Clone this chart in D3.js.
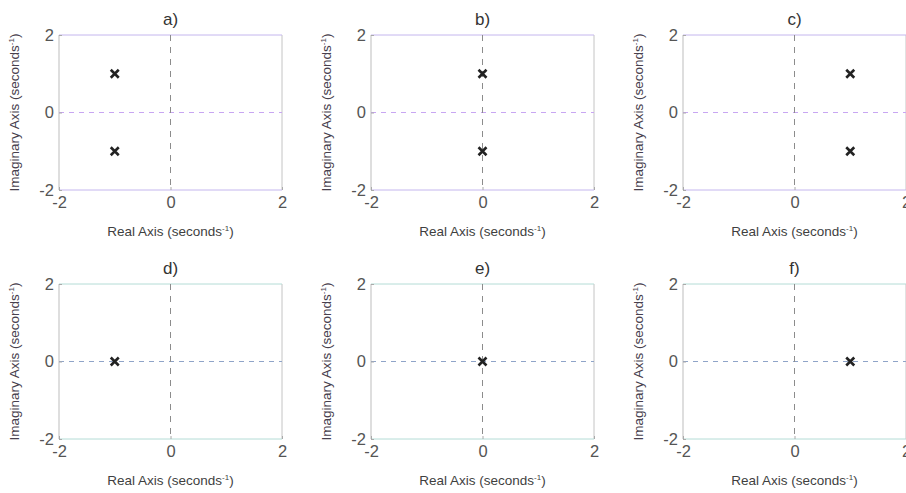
<!DOCTYPE html>
<html>
<head>
<meta charset="utf-8">
<script src="https://cdn.jsdelivr.net/npm/d3@7"></script>
<style>
  body { margin: 0; background: #fff; }
  svg { display: block; font-family: 'Liberation Sans', Arial, sans-serif; }
</style>
</head>
<body>
<div id="chart"></div>
<script>
  // panel titles and pole locations (real / imaginary parts)
  const panelTitles = ['a)', 'b)', 'c)', 'd)', 'e)', 'f)']
  const poleRe = [[-1, -1], [0, 0], [1, 1], [-1], [0], [1]]
  const poleIm = [[1, -1], [1, -1], [1, -1], [0], [0], [0]]
  const tickValues = [-2, 0, 2]
  const axisDomain = [-2, 2]

  const W = 906, H = 493
  const boxW = 223, boxH = 155
  const colLeft = [59, 371, 683]
  const rowTop = [35, 284]
  // faint scan tints of the top row / bottom row
  const edgeColor = ['#c4b6ee', '#b4dcd6']
  const zeroColor = ['#c8a6f2', '#8fa4c8']

  const svg = d3.select('#chart').append('svg')
    .attr('width', W).attr('height', H)

  panelTitles.forEach(function(title, i) {
    const row = Math.floor(i / 3), col = i % 3
    const g = svg.append('g')
      .attr('transform', `translate(${colLeft[col]}, ${rowTop[row]})`)

    const x = d3.scaleLinear().domain(axisDomain).range([0, boxW])
    const y = d3.scaleLinear().domain(axisDomain).range([boxH, 0])

    // box: grey sides, tinted top and bottom
    g.append('line').attr('x1', 0).attr('x2', 0).attr('y1', 0).attr('y2', boxH)
      .attr('stroke', '#bdbdbd')
    g.append('line').attr('x1', boxW).attr('x2', boxW).attr('y1', 0).attr('y2', boxH)
      .attr('stroke', '#c4c4c4')
    g.append('line').attr('x1', 0).attr('x2', boxW).attr('y1', 0).attr('y2', 0)
      .attr('stroke', edgeColor[row])
    g.append('line').attr('x1', 0).attr('x2', boxW).attr('y1', boxH).attr('y2', boxH)
      .attr('stroke', edgeColor[row])

    // zero lines
    g.append('line')
      .attr('x1', 0).attr('x2', boxW).attr('y1', y(0)).attr('y2', y(0))
      .attr('stroke', zeroColor[row]).attr('stroke-dasharray', '5,5')
    g.append('line')
      .attr('x1', x(0)).attr('x2', x(0)).attr('y1', 0).attr('y2', boxH)
      .attr('stroke', '#8c8c8c').attr('stroke-dasharray', '6,6')

    // axes with small inward ticks
    const ax = g.append('g').attr('transform', `translate(0, ${boxH})`)
      .call(d3.axisBottom(x).tickValues(tickValues).tickFormat(d => String(d))
        .tickSizeInner(-3).tickSizeOuter(0).tickPadding(5))
    const ay = g.append('g')
      .call(d3.axisLeft(y).tickValues(tickValues).tickFormat(d => String(d))
        .tickSizeInner(-3).tickSizeOuter(0).tickPadding(5))
    ;[ax, ay].forEach(function(a) {
      a.select('.domain').remove()
      a.selectAll('.tick line').attr('stroke', '#aaa')
      a.selectAll('.tick text')
        .attr('fill', '#555')
        .style('font-size', '16.5px')
        .style('font-family', "'Liberation Sans', Arial, sans-serif")
    })
    ax.selectAll('.tick text').attr('dy', '0.8em')

    // title
    g.append('text')
      .attr('x', x(0)).attr('y', -10)
      .attr('text-anchor', 'middle')
      .attr('fill', '#333')
      .style('font-size', '17px')
      .text(title)

    // x label
    const xl = g.append('text')
      .attr('x', x(0)).attr('y', boxH + 46)
      .attr('text-anchor', 'middle')
      .attr('fill', '#3f3f3f')
      .style('font-size', '13.5px')
    xl.append('tspan').text('Real Axis (seconds')
    xl.append('tspan').attr('dy', -5).style('font-size', '8px').text('-1')
    xl.append('tspan').attr('dy', 5).text(')')

    // y label
    const yl = g.append('text')
      .attr('transform', `translate(${-40}, ${boxH / 2}) rotate(-90)`)
      .attr('text-anchor', 'middle')
      .attr('fill', '#47404d')
      .style('font-size', '13.5px')
    yl.append('tspan').text('Imaginary Axis (seconds')
    yl.append('tspan').attr('dy', -5).style('font-size', '8px').text('-1')
    yl.append('tspan').attr('dy', 5).text(')')

    // poles as x markers
    const pts = poleRe[i].map((re, k) => ({ re: re, im: poleIm[i][k] }))
    const s = 4
    g.selectAll('.pole').data(pts).enter().append('path')
      .attr('class', 'pole')
      .attr('d', d => {
        const px = x(d.re), py = y(d.im)
        return `M${px - s},${py - s}L${px + s},${py + s}M${px - s},${py + s}L${px + s},${py - s}`
      })
      .attr('stroke', '#222')
      .attr('stroke-width', 2.6)
  })
</script>
</body>
</html>
